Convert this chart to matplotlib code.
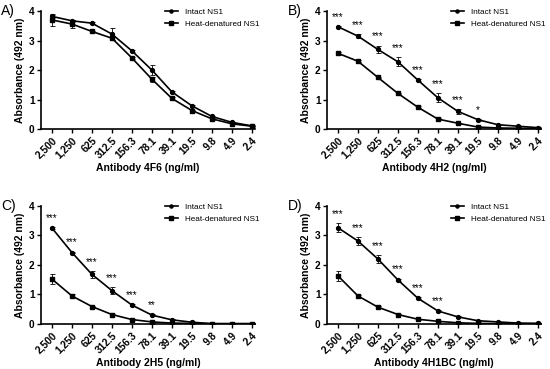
import numpy as np
import matplotlib
matplotlib.use("Agg")
import matplotlib.pyplot as plt

plt.rcParams['font.family'] = ['Liberation Sans', 'DejaVu Sans']

conc_labels = ["2,500", "1,250", "625", "312.5", "156.3", "78.1", "39.1", "19.5", "9.8", "4.9", "2.4"]

# Panel A - 4F6
a_intact = [3.82, 3.67, 3.59, 3.22, 2.65, 2.00, 1.26, 0.79, 0.43, 0.23, 0.11]
a_intact_err = [0.05, 0.04, 0.03, 0.20, 0.04, 0.18, 0.04, 0.03, 0.03, 0.02, 0.02]
a_heat = [3.70, 3.56, 3.31, 3.08, 2.41, 1.69, 1.04, 0.63, 0.35, 0.18, 0.10]
a_heat_err = [0.20, 0.15, 0.03, 0.05, 0.04, 0.08, 0.04, 0.03, 0.03, 0.02, 0.02]
a_stars = [""] * 11

# Panel B - 4H2
b_intact = [3.47, 3.15, 2.70, 2.28, 1.66, 1.06, 0.60, 0.32, 0.15, 0.10, 0.05]
b_intact_err = [0.03, 0.07, 0.13, 0.15, 0.04, 0.15, 0.07, 0.03, 0.02, 0.02, 0.01]
b_heat = [2.57, 2.30, 1.75, 1.21, 0.74, 0.34, 0.20, 0.07, 0.04, 0.03, 0.02]
b_heat_err = [0.05, 0.03, 0.03, 0.03, 0.03, 0.03, 0.02, 0.02, 0.01, 0.01, 0.01]
b_stars = ["***"] * 7 + ["*"] + [""] * 3

# Panel C - 2H5
c_intact = [3.25, 2.42, 1.68, 1.13, 0.64, 0.30, 0.14, 0.06, 0.01, 0.01, 0.01]
c_intact_err = [0.03, 0.03, 0.12, 0.13, 0.03, 0.03, 0.02, 0.01, 0.01, 0.01, 0.01]
c_heat = [1.52, 0.95, 0.59, 0.32, 0.15, 0.07, 0.03, 0.02, 0.01, 0.01, 0.01]
c_heat_err = [0.18, 0.07, 0.03, 0.03, 0.02, 0.01, 0.01, 0.01, 0.01, 0.01, 0.01]
c_stars = ["***"] * 5 + ["**"] + [""] * 5

# Panel D - 4H1BC
d_intact = [3.26, 2.81, 2.20, 1.49, 0.87, 0.44, 0.24, 0.11, 0.07, 0.03, 0.02]
d_intact_err = [0.15, 0.13, 0.13, 0.05, 0.03, 0.03, 0.02, 0.02, 0.01, 0.01, 0.01]
d_heat = [1.63, 0.95, 0.57, 0.32, 0.16, 0.09, 0.04, 0.02, 0.01, 0.01, 0.01]
d_heat_err = [0.17, 0.03, 0.04, 0.03, 0.02, 0.01, 0.01, 0.01, 0.01, 0.01, 0.01]
d_stars = ["***"] * 6 + [""] * 5

panels = [
    ("A)", "Antibody 4F6 (ng/ml)", a_intact, a_intact_err, a_heat, a_heat_err, a_stars),
    ("B)", "Antibody 4H2 (ng/ml)", b_intact, b_intact_err, b_heat, b_heat_err, b_stars),
    ("C)", "Antibody 2H5 (ng/ml)", c_intact, c_intact_err, c_heat, c_heat_err, c_stars),
    ("D)", "Antibody 4H1BC (ng/ml)", d_intact, d_intact_err, d_heat, d_heat_err, d_stars),
]

positions = [
    [0.0745, 0.650, 0.389, 0.320],
    [0.5945, 0.650, 0.389, 0.320],
    [0.0745, 0.122, 0.389, 0.320],
    [0.5945, 0.122, 0.389, 0.320],
]

fig = plt.figure(figsize=(5.5, 3.69), dpi=100)
x = np.arange(len(conc_labels))

for pos, (tag, xlabel, yi, ei, yh, eh, stars) in zip(positions, panels):
    ax = fig.add_axes(pos)
    ax.errorbar(x, yi, yerr=ei, color='black', marker='o', ms=2.8, lw=1.2,
                capsize=1.8, elinewidth=0.6, capthick=0.6, label='Intact NS1')
    ax.errorbar(x, yh, yerr=eh, color='black', marker='s', ms=3.2, lw=1.2,
                capsize=1.8, elinewidth=0.6, capthick=0.6, label='Heat-denatured NS1')
    for xi, s, v, e in zip(x, stars, yi, ei):
        if s:
            ax.text(xi, v + e + 0.14, s, ha='center', va='bottom', fontsize=7)
    ax.set_xlim(-0.55, 10.15)
    ax.set_ylim(0, 4)
    ax.set_yticks([0, 1, 2, 3, 4])
    ax.set_xticks(x)
    ax.set_xticklabels(conc_labels, rotation=45, ha='right', rotation_mode='anchor',
                       fontsize=7.3, fontweight='bold')
    for lab in ax.get_yticklabels():
        lab.set_fontsize(7.3)
        lab.set_fontweight('bold')
    ax.spines['top'].set_visible(False)
    ax.spines['right'].set_visible(False)
    ax.spines['left'].set_linewidth(1.2)
    ax.spines['bottom'].set_linewidth(1.2)
    ax.tick_params(width=1.0, length=3, pad=1.5)
    ax.set_xlabel(xlabel, fontsize=7.5, fontweight='bold', labelpad=2)
    ax.set_ylabel("Absorbance (492 nm)", fontsize=7.5, fontweight='bold', labelpad=3)
    ax.text(-0.185, 1.0, tag, transform=ax.transAxes, fontsize=10, ha='left', va='center')
    handles, labels = ax.get_legend_handles_labels()
    handles = [h[0] for h in handles]
    leg = ax.legend(handles, labels, loc='upper left', frameon=False, fontsize=5.9,
                    handlelength=1.6, handletextpad=0.85, borderpad=0, borderaxespad=0,
                    labelspacing=0.5, markerscale=0.8, bbox_to_anchor=(0.579, 1.025))

fig.savefig("out.png", dpi=100)
